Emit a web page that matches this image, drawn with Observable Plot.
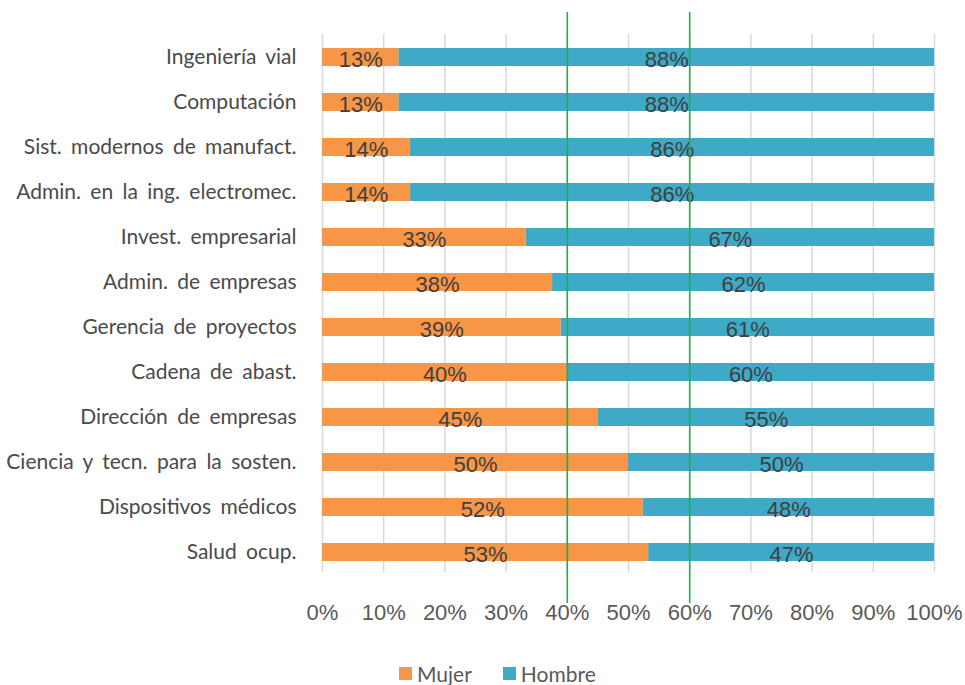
<!DOCTYPE html>
<html><head><meta charset="utf-8">
<script src="https://cdn.jsdelivr.net/npm/d3@7"></script>
<script src="https://cdn.jsdelivr.net/npm/@observablehq/plot@0.6"></script>
<style>
body{margin:0;background:#fff;}
#wrap{position:relative;width:965px;height:685px;overflow:hidden;}
.legend{position:absolute;top:663px;left:399px;display:flex;align-items:center;font-family:Lato,"Open Sans",sans-serif;font-size:21px;line-height:21px;color:#595959;}
.item{display:flex;align-items:center;}
.item:first-child{margin-right:31px;}
.sw{width:13px;height:13px;display:inline-block;margin-right:5px;}
</style>
</head><body>
<div id="wrap"></div>
<script>
const categories = ["Ingeniería vial","Computación","Sist. modernos de manufact.","Admin. en la ing. electromec.","Invest. empresarial","Admin. de empresas","Gerencia de proyectos","Cadena de abast.","Dirección de empresas","Ciencia y tecn. para la sosten.","Dispositivos médicos","Salud ocup."];
const mujer  = [12.5, 12.5, 14.3, 14.3, 33.3, 37.6, 39, 40, 45, 50, 52.4, 53.3];
const hombre = [87.5, 87.5, 85.7, 85.7, 66.7, 62.4, 61, 60, 55, 50, 47.6, 46.7];
const series = ["Mujer","Hombre"];
const colors = ["#F79646","#3FAAC7"];
const xTicks = [0,10,20,30,40,50,60,70,80,90,100];
const refLines = [40,60];

const rows = categories.flatMap((c,i)=>[
  {cat:c, series:"Mujer", value:mujer[i]},
  {cat:c, series:"Hombre", value:hombre[i]}
]);

const chart = Plot.plot({
  width: 965, height: 645,
  marginLeft: 322, marginRight: 31, marginTop: 34, marginBottom: 71,
  style: {fontFamily: "Liberation Sans, Arial, sans-serif", background: "#fff"},
  x: {domain: [0,100]},
  y: {domain: categories, paddingInner: 0.6, paddingOuter: 0.3},
  color: {domain: series, range: colors},
  marks: [
    Plot.ruleX(xTicks, {stroke: "#d9d9d9", strokeWidth: 1.5, insetBottom: 2}),
    Plot.barX(rows, {x: "value", y: "cat", fill: "series"}),
    Plot.text(rows, Plot.stackX({x: "value", y: "cat", z: "series", text: d => Math.round(d.value) + "%", fill: "#404040", fontSize: 22, dy: 2, fontFamily: "Liberation Sans, Arial, sans-serif"})),
    Plot.ruleX(refLines, {stroke: "#1FAF4B", strokeWidth: 1.6, insetTop: -22, insetBottom: -29}),
    Plot.axisX({ticks: xTicks, tickSize: 0, tickPadding: 30, tickFormat: d => d + "%", fontSize: 22, color: "#595959", label: null}),
    Plot.axisY({tickSize: 0, tickPadding: 26, fontSize: 21, color: "#4a4a4a", fontFamily: "Lato, Open Sans, sans-serif", label: null})
  ]
});
chart.querySelectorAll('[aria-label="y-axis tick label"]').forEach(g => { g.style.wordSpacing = "4px"; });
const wrap = document.getElementById("wrap");
wrap.appendChild(chart);
const leg = document.createElement("div");
leg.className = "legend";
series.forEach((s,i)=>{
  const it = document.createElement("div"); it.className = "item";
  const sw = document.createElement("span"); sw.className = "sw"; sw.style.background = colors[i];
  const t = document.createElement("span"); t.textContent = s;
  it.appendChild(sw); it.appendChild(t); leg.appendChild(it);
});
wrap.appendChild(leg);
</script>
</body></html>
